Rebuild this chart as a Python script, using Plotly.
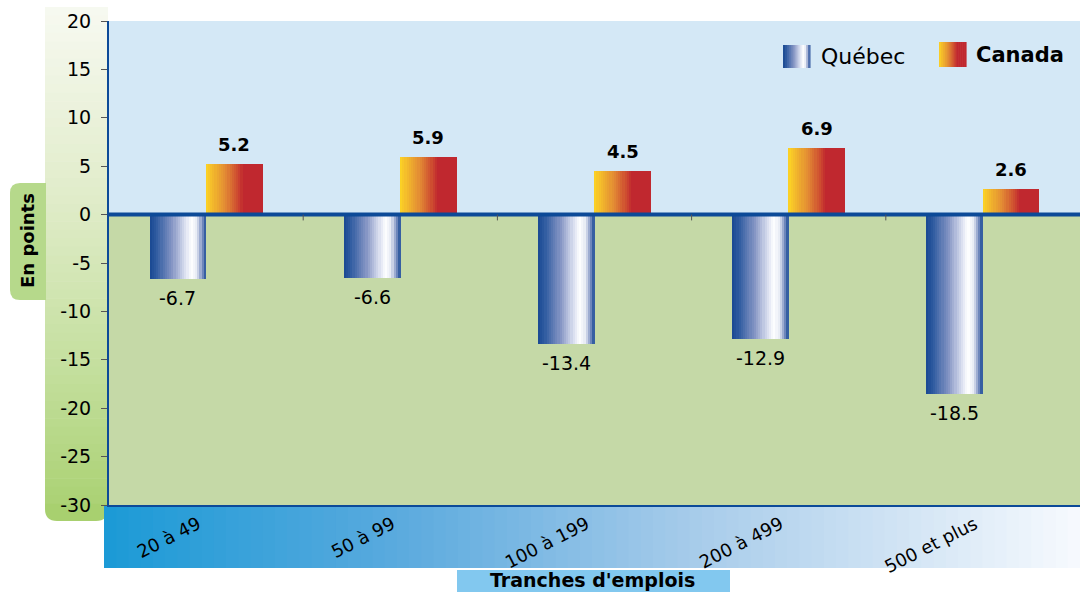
import plotly.graph_objects as go

# Data
categories = ["20 à 49", "50 à 99", "100 à 199", "200 à 499", "500 et plus"]
quebec = [-6.7, -6.6, -13.4, -12.9, -18.5]
canada = [5.2, 5.9, 4.5, 6.9, 2.6]
y_ticks = [20, 15, 10, 5, 0, -5, -10, -15, -20, -25, -30]
y_tick_text = [str(v) for v in y_ticks]

W, H = 1080, 592
ML, MR, MT, MB = 109, 0, 21, 87
PW, PH = W - ML - MR, H - MT - MB
FONT = "DejaVu Sans, Arial, sans-serif"
DARK_BLUE = "#0c4a98"


def hex2rgb(h):
    h = h.lstrip("#")
    return [int(h[i:i + 2], 16) for i in (0, 2, 4)]


def grad(stops, t):
    """Piecewise-linear colour at t in [0, 1] from [(pos, hex), ...]."""
    for (p0, c0), (p1, c1) in zip(stops, stops[1:]):
        if p0 <= t <= p1:
            f = 0 if p1 == p0 else (t - p0) / (p1 - p0)
            a, b = hex2rgb(c0), hex2rgb(c1)
            return "rgb(%d,%d,%d)" % tuple(round(a[i] + (b[i] - a[i]) * f) for i in range(3))
    return stops[-1][1]


QC_STOPS = [(0, "#184892"), (0.12, "#2f5ba0"), (0.4, "#8595c4"), (0.62, "#d6dcee"),
            (0.74, "#ffffff"), (0.84, "#e6eaf4"), (0.93, "#7f92c3"), (1, "#1a4b96")]
CA_STOPS = [(0, "#fcd424"), (0.08, "#f6c22a"), (0.35, "#e28a34"), (0.58, "#cc4630"),
            (0.66, "#c0282f"), (1, "#c0282f")]

BAR_W = 0.29
N_SLICES = 26


def sliced_bar(values, left_off, stops, name):
    xs, ys, cols, ws = [], [], [], []
    s = BAR_W / N_SLICES
    for i, v in enumerate(values):
        for k in range(N_SLICES):
            xs.append(i + left_off + (k + 0.5) * s)
            ys.append(v)
            cols.append(grad(stops, (k + 0.5) / N_SLICES))
            ws.append(s * 1.25)
    return go.Bar(x=xs, y=ys, width=ws, name=name, showlegend=False,
                  marker=dict(color=cols, line=dict(width=0)), hoverinfo="skip")


fig = go.Figure()
fig.add_trace(sliced_bar(quebec, -BAR_W, QC_STOPS, "Québec"))
fig.add_trace(sliced_bar(canada, 0.0, CA_STOPS, "Canada"))

shapes = []
annotations = []


def px_x(p):
    return (p - ML) / PW


def px_y(p):
    return (H - MB - p) / PH


def label(x, y, text, size, **kw):
    d = dict(xref="paper", yref="paper", x=px_x(x), y=px_y(y), text=text, showarrow=False,
             xanchor="center", yanchor="middle", font=dict(family=FONT, size=size, color="#000"))
    d.update(kw)
    annotations.append(d)


# upper (positive) background
shapes.append(dict(type="rect", xref="x domain", yref="y", x0=0, x1=1, y0=0, y1=20,
                   fillcolor="#d4e8f6", line_width=0, layer="below"))

# left tick panel: vertical gradient with rounded bottom
panel_top, panel_bot, px0, px1 = 7, 521, 45, 108
n_bands = 60
pstops = [(0, "#f7f9f1"), (0.35, "#e2edcc"), (0.7, "#c4df9e"), (1, "#a8d06f")]
for b in range(n_bands):
    y0 = panel_top + (panel_bot - panel_top) * b / n_bands
    y1 = panel_top + (panel_bot - panel_top) * (b + 1) / n_bands
    col = grad(pstops, (b + 0.5) / n_bands)
    if b < n_bands - 2:
        shapes.append(dict(type="rect", xref="paper", yref="paper",
                           x0=px_x(px0), x1=px_x(px1), y0=px_y(y1 + 0.6), y1=px_y(y0),
                           fillcolor=col, line_width=0, layer="below"))
r = 12
y_a = panel_top + (panel_bot - panel_top) * (n_bands - 2) / n_bands


def P(x, y):
    return "%.5f,%.5f" % (px_x(x), px_y(y))


path = ("M " + P(px0, y_a) + " L " + P(px1, y_a) + " L " + P(px1, panel_bot - r) +
        " Q " + P(px1, panel_bot) + " " + P(px1 - r, panel_bot) +
        " L " + P(px0 + r, panel_bot) + " Q " + P(px0, panel_bot) + " " + P(px0, panel_bot - r) + " Z")
shapes.append(dict(type="path", xref="paper", yref="paper", path=path,
                   fillcolor=grad(pstops, 1.0), line_width=0, layer="below"))

# "En points" tab
tx0, tx1, ty0, ty1, tr = 10, 46, 183, 300, 10
path = ("M " + P(tx1, ty0) + " L " + P(tx0 + tr, ty0) + " Q " + P(tx0, ty0) + " " + P(tx0, ty0 + tr) +
        " L " + P(tx0, ty1 - tr) + " Q " + P(tx0, ty1) + " " + P(tx0 + tr, ty1) +
        " L " + P(tx1, ty1) + " Z")
shapes.append(dict(type="path", xref="paper", yref="paper", path=path,
                   fillcolor="#b6d98b", line_width=0, layer="below"))
label(27, 241, "<b>En points</b>", 18, textangle=-90)

# category band: horizontal gradient
bx0, bx1, by0, by1 = 104, 1080, 505, 568
n_strips = 80
bstops = [(0, "#1b9ad6"), (0.3, "#5aaade"), (0.6, "#a6cbea"), (0.85, "#d8e8f6"), (1, "#f7fafe")]
for k in range(n_strips):
    x0 = bx0 + (bx1 - bx0) * k / n_strips
    x1 = bx0 + (bx1 - bx0) * (k + 1) / n_strips
    shapes.append(dict(type="rect", xref="paper", yref="paper",
                       x0=px_x(x0), x1=px_x(x1 + 0.8), y0=px_y(by1), y1=px_y(by0),
                       fillcolor=grad(bstops, (k + 0.5) / n_strips), line_width=0, layer="below"))

# axis title box
shapes.append(dict(type="rect", xref="paper", yref="paper", x0=px_x(457), x1=px_x(730),
                   y0=px_y(593), y1=px_y(570), fillcolor="#82c8ef", line_width=0, layer="below"))
label(592, 580, "<b>Tranches d'emplois</b>", 19)

# zero line and category separators
shapes.append(dict(type="line", xref="x domain", yref="y", x0=0, x1=1, y0=0, y1=0,
                   line=dict(color=DARK_BLUE, width=4), layer="above"))
for i in range(len(categories) - 1):
    shapes.append(dict(type="line", xref="x", yref="y", x0=i + 0.5, x1=i + 0.5, y0=0, y1=-0.6,
                       line=dict(color="#555", width=1), layer="above"))

# value labels
for i, v in enumerate(quebec):
    annotations.append(dict(x=i - BAR_W / 2, y=v, text=f"{v:.1f}", showarrow=False,
                            xanchor="center", yanchor="top", yshift=-6,
                            font=dict(family=FONT, size=19, color="#000")))
for i, v in enumerate(canada):
    annotations.append(dict(x=i + BAR_W / 2, y=v, text=f"<b>{v:.1f}</b>", showarrow=False,
                            xanchor="center", yanchor="bottom", yshift=7,
                            font=dict(family=FONT, size=18, color="#000")))

# legend
for x0, x1, y0, y1, stops in [(783, 810, 45, 68, QC_STOPS), (939, 966, 42, 67, CA_STOPS)]:
    n = 14
    for k in range(n):
        a = x0 + (x1 - x0) * k / n
        b = x0 + (x1 - x0) * (k + 1) / n
        shapes.append(dict(type="rect", xref="paper", yref="paper",
                           x0=px_x(a), x1=px_x(b + 0.6), y0=px_y(y1), y1=px_y(y0),
                           fillcolor=grad(stops, (k + 0.5) / n), line_width=0, layer="above"))
label(819, 56, "Québec", 22, xanchor="left")
label(974, 55, "<b>Canada</b>", 21, xanchor="left")

fig.update_layout(
    width=W, height=H,
    margin=dict(l=ML, r=MR, t=MT, b=MB, pad=0),
    paper_bgcolor="white",
    plot_bgcolor="#c5d9a7",
    barmode="overlay",
    bargap=0,
    shapes=shapes,
    annotations=annotations,
    showlegend=False,
    font=dict(family=FONT, color="#000"),
)
fig.update_xaxes(
    range=[-0.5, len(categories) - 0.5],
    tickmode="array", tickvals=list(range(len(categories))), ticktext=categories,
    tickangle=-27, tickfont=dict(family=FONT, size=18, color="#000"),
    ticklabelshift=-8,
    showgrid=False, zeroline=False, ticks="",
    showline=True, linecolor=DARK_BLUE, linewidth=2, mirror=False,
)
fig.update_yaxes(
    range=[-30, 20], tickmode="array", tickvals=y_ticks, ticktext=y_tick_text,
    tickfont=dict(family=FONT, size=19, color="#000"),
    ticks="outside", ticklen=6, tickcolor="#555", tickwidth=1,
    ticklabelstandoff=6,
    showgrid=False, zeroline=False,
    showline=True, linecolor=DARK_BLUE, linewidth=2,
)

fig.write_html("out.html")
